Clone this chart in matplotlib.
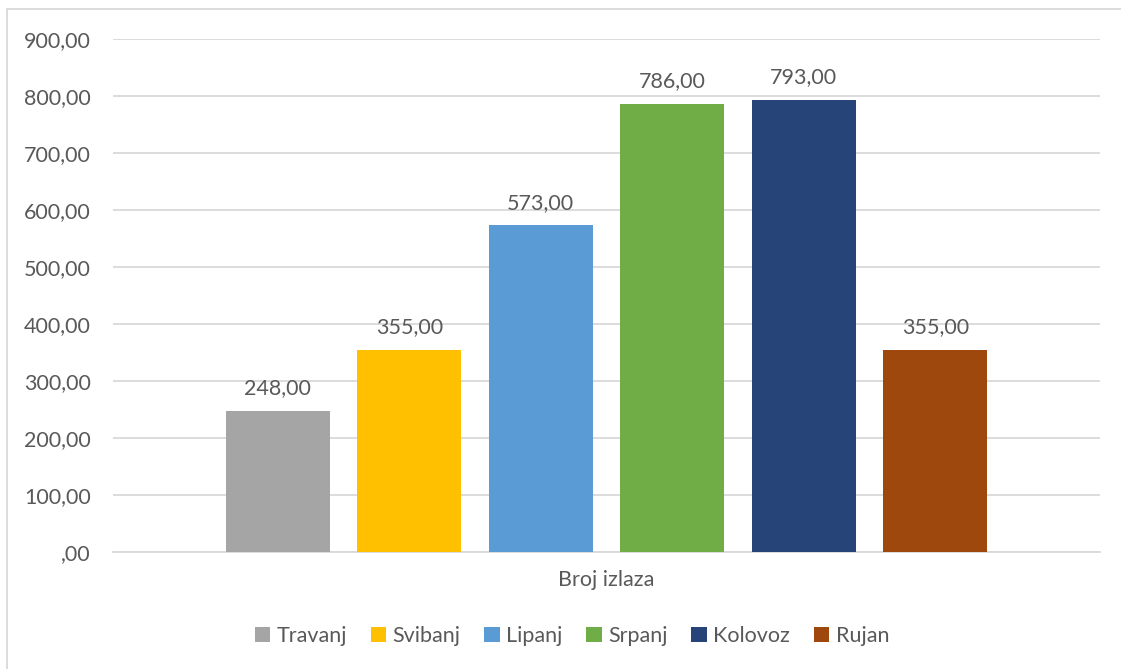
import matplotlib
matplotlib.use("Agg")
import matplotlib.pyplot as plt
from matplotlib.patches import Patch
from matplotlib.lines import Line2D

months = ["Travanj", "Svibanj", "Lipanj", "Srpanj", "Kolovoz", "Rujan"]
values = [248, 355, 573, 786, 793, 355]
colors = ["#A5A5A5", "#FFC000", "#5B9BD5", "#70AD47", "#264478", "#9E480E"]
category = "Broj izlaza"
yticks = [0, 100, 200, 300, 400, 500, 600, 700, 800, 900]

def fmt(v):
    s = f"{v:.2f}".replace(".", ",")
    return s[1:] if s.startswith("0,") else s

plt.rcParams['font.family'] = ['Lato', 'DejaVu Sans']
txt = "#595959"
fs = 15.5

fig = plt.figure(figsize=(11.21, 6.69), dpi=100)
ax = fig.add_axes([113/1121, 1 - 552/669, (1100 - 113)/1121, (552 - 39)/669])

xs = list(range(len(values)))
width = 104 / 131.5
ax.bar(xs, values, width=width, color=colors, zorder=3)
for x, v in zip(xs, values):
    ax.annotate(fmt(v), (x, v), xytext=(0, 9), textcoords="offset points",
                ha="center", va="bottom", fontsize=fs, color=txt)

half = (606.5 - 113) / 131.5
ax.set_xlim(2.5 - half, 2.5 + half)
ax.set_ylim(0, 900)
ax.set_yticks(yticks)
ax.set_yticklabels([fmt(t) for t in yticks], fontsize=fs, color=txt)
ax.yaxis.grid(True, color="#D9D9D9", linewidth=1.3, zorder=0)
ax.tick_params(axis="y", length=0, pad=16)
ax.set_xticks([2.5])
ax.set_xticklabels([category], fontsize=fs, color=txt)
ax.tick_params(axis="x", length=0, pad=13)
for s in ["top", "right", "left"]:
    ax.spines[s].set_visible(False)
ax.spines["bottom"].set_color("#D9D9D9")
ax.spines["bottom"].set_linewidth(1.3)

handles = [Patch(facecolor=c, edgecolor="none") for c in colors]
fig.legend(handles, months, loc="center", bbox_to_anchor=(572/1121, 1 - 636/669),
           ncol=6, frameon=False, fontsize=fs, handlelength=0.72, handleheight=0.72,
           handletextpad=0.3, columnspacing=1.1, labelcolor=txt)

# chart border (left and top visible)
fig.add_artist(Line2D([7/1121, 7/1121], [0, 1 - 9/669], transform=fig.transFigure,
                      color="#D9D9D9", linewidth=1.3))
fig.add_artist(Line2D([7/1121, 1], [1 - 9/669, 1 - 9/669], transform=fig.transFigure,
                      color="#D9D9D9", linewidth=1.3))

fig.savefig("out.png", dpi=100, facecolor="white")
